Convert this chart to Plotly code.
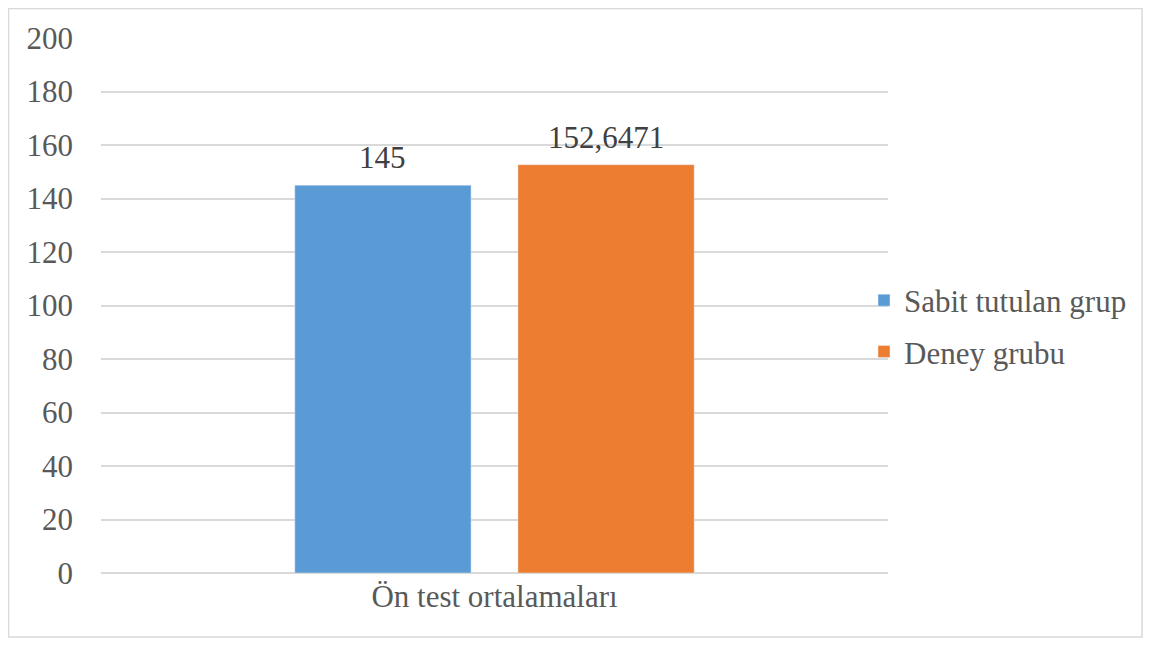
import plotly.graph_objects as go

categories = ["Ön test ortalamaları"]
series_names = ["Sabit tutulan grup", "Deney grubu"]
series_values = [[145], [152.6471]]
series_colors = ["#5B9BD5", "#ED7D31"]
y_ticks = [0, 20, 40, 60, 80, 100, 120, 140, 160, 180, 200]

FS = 31
FONT = "Liberation Serif"

# page body has an 8px margin; work in figure coordinates
OFF = 8
W, H = 1151 - 2 * OFF, 646 - 2 * OFF
L, T = 101 - OFF, 38 - OFF
PR, PB = 888 - OFF, 573 - OFF
R, B = W - PR, H - PB
pw, ph = PR - L, PB - T

BARGAP, GROUPGAP = 0.433, 0.21
slot_px = pw * (1 - BARGAP) / len(series_names)


def fmt(v):
    s = str(v)
    if s.endswith(".0"):
        s = s[:-2]
    return s.replace(".", ",")


fig = go.Figure()
for i, (name, vals, col) in enumerate(zip(series_names, series_values, series_colors)):
    fig.add_trace(go.Bar(
        x=categories, y=vals, name=name, marker_color=col, legendgroup=f"g{i}",
    ))
    shift = (i - (len(series_names) - 1) / 2) * slot_px
    for c, v in zip(categories, vals):
        fig.add_annotation(
            x=c, y=v, xref="x", yref="y", xshift=shift, yshift=8,
            yanchor="bottom", showarrow=False,
            text=fmt(v),
            font=dict(family=FONT, size=FS, color="#404040"),
        )

def px(x):
    return (x - OFF - L) / pw

def py(y):
    return (PB - (y - OFF)) / ph

fig.add_shape(type="rect", xref="paper", yref="paper",
              x0=px(8.5), x1=px(1142), y0=py(637), y1=py(8.5),
              line=dict(color="#d9d9d9", width=1.5), layer="below")

fig.update_layout(
    width=W, height=H, margin=dict(l=L, r=R, t=T, b=B, autoexpand=False),
    paper_bgcolor="white", plot_bgcolor="white",
    barmode="group", bargap=BARGAP, bargroupgap=GROUPGAP,
    font=dict(family=FONT, size=FS, color="#595959"),
    showlegend=True,
    legend=dict(x=px(864), xanchor="left", y=py(326), yanchor="middle",
                font=dict(size=FS, color="#595959"), traceorder="grouped",
                tracegroupgap=8, itemwidth=30, bgcolor="rgba(0,0,0,0)"),
    xaxis=dict(showgrid=False, showline=False, ticks="", ticklabelstandoff=2,
               tickfont=dict(size=FS, color="#595959")),
    yaxis=dict(range=[0, 200], tickvals=y_ticks, showgrid=True, gridcolor="#d9d9d9",
               gridwidth=1.5, zeroline=True, zerolinecolor="#d9d9d9", zerolinewidth=1.5,
               ticks="", ticklabelstandoff=27, tickfont=dict(size=FS, color="#595959")),
)

fig.write_html("out.html")
